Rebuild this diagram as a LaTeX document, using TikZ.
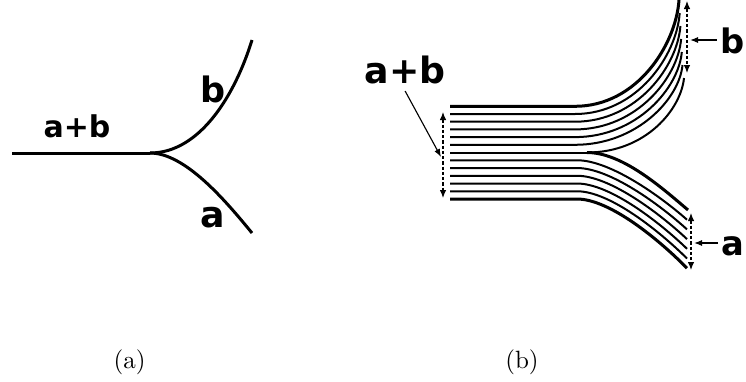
\documentclass[tikz,border=0pt]{standalone}
\usepackage{fontspec}
\newfontfamily\labelfont{DejaVu Sans}
\usetikzlibrary{arrows.meta}

\begin{document}
\begin{tikzpicture}[x=0.4pt,y=-0.4pt,
    strand/.style={line width=0.8pt},
    edge/.style={line width=1.2pt},
    span/.style={line width=0.45pt,dash pattern=on 1.3pt off 0.8pt,
      {Latex[length=3.2pt,width=2.6pt]}-{Latex[length=3.2pt,width=2.6pt]}},
    lead/.style={line width=0.45pt,-{Latex[length=3.2pt,width=2.4pt]}},
    lbl/.style={inner sep=0pt,font={\labelfont\bfseries\fontsize{#1}{#1}\selectfont}}]
  \useasboundingbox (0,0) rectangle (746,381);

  % (a) one strand splitting in two
  \draw[edge] (12,153) -- (150,153) coordinate (split);
  \draw[edge] (split) .. controls (200,153) and (235,95) .. (252,40);
  \draw[edge] (split) .. controls (185,153) and (225,200) .. (252,233);
  \node[lbl=12,anchor=base] (sum a) at (77,137) {a+b};
  \node[lbl=14,anchor=base] (b a) at (213,102) {b};
  \node[lbl=14.5,anchor=base] (a a) at (212.5,227) {a};
  \node (cap a) at (129.5,362) {(a)};

  % (b) bundle of strands
  \foreach \i/\lw in {0/edge,1/strand,2/strand,3/strand,4/strand,5/strand}{
    \pgfmathsetmacro\ys{106.3+7.7*\i}
    \pgfmathsetmacro\ex{679+0.7*\i}
    \pgfmathsetmacro\ey{13*\i}
    \pgfmathsetmacro\cy{\ey+0.42*(\ys-\ey)}
    \draw[\lw] (450,\ys) -- (575,\ys) .. controls (637,\ys) and (\ex-3,\cy) .. (\ex,\ey);
  }
  \draw[strand] (450,152.5) -- (587,152.5) coordinate (fork);
  \draw[strand] (fork) .. controls (646,152.5) and (681,109) .. (684,78);
  \draw[edge] (fork) .. controls (622,152.5) and (661,187) .. (688,210);
  \foreach \j/\lw in {1/strand,2/strand,3/strand,4/strand,5/strand,6/edge}{
    \pgfmathsetmacro\ys{152.5+7.75*\j}
    \pgfmathsetmacro\ey{210+9.7*\j}
    \pgfmathsetmacro\cy{\ey-0.4*(\ey-\ys)}
    \draw[\lw] (450,\ys) -- (577,\ys) .. controls (610,\ys) and (660,\cy) .. (687,\ey);
  }

  % widths of the bundle
  \coordinate (sum top) at (443,112);
  \coordinate (sum bot) at (443,198);
  \coordinate (sum mid) at (441,157);
  \coordinate (b top) at (687,1);
  \coordinate (b bot) at (687,73);
  \coordinate (b mid) at (690,40);
  \coordinate (a top) at (691,213);
  \coordinate (a bot) at (691,270);
  \coordinate (a mid) at (694,243);
  \draw[span] (sum top) -- (sum bot);
  \draw[span] (b top) -- (b bot);
  \draw[span] (a top) -- (a bot);

  \node[lbl=14.5,anchor=base east] (sum b) at (446,83) {a+b};
  \node[lbl=13.5,anchor=base east] (b b) at (745,53) {b};
  \node[lbl=13.5,anchor=base east] (a b) at (745,255) {a};
  \draw[lead] ([yshift=-2.8pt]sum b.south) -- (sum mid);
  \draw[lead] (b b.west |- b mid) ++(-3,0) -- (b mid);
  \draw[lead] (a b.west |- a mid) ++(-3,0) -- (a mid);
  \node (cap b) at (522,362) {(b)};
\end{tikzpicture}
\end{document}
